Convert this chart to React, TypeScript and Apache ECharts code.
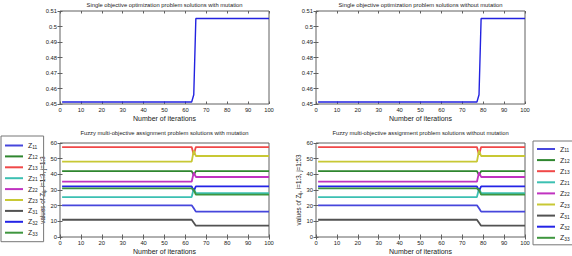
import React, { useEffect, useRef } from "react";
import * as echarts from "echarts";

const FONT = "Liberation Sans, Arial, sans-serif";

const names = ["Z11", "Z12", "Z13", "Z21", "Z22", "Z23", "Z31", "Z32", "Z33"];
const colors = ["#4646dc", "#2f862f", "#f04848", "#3cc0b2", "#c032c0", "#c8c834", "#525252", "#2424e6", "#3f963f"];

// Single objective: breakpoints (iteration, value)
const topWithX = [1, 63, 64, 65, 100];
const topWithoutX = [1, 77, 78, 79, 100];
const topY = [0.4513, 0.4513, 0.456, 0.5052, 0.5052];

// Multi-objective: breakpoints
const multiWithX = [1, 63, 64, 65, 100];
const multiWithoutX = [1, 77, 78, 79, 100];
const z11 = [20.2, 20.2, 18.3, 16.2, 16.2];
const z12 = [42.1, 42.1, 39.5, 42.1, 42.1];
const z13 = [57.4, 57.4, 52.5, 57.4, 57.4];
const z21 = [25.5, 25.5, 31.0, 28.0, 28.0];
const z22 = [35.3, 35.3, 41.2, 38.3, 38.3];
const z23 = [48.1, 48.1, 55.2, 51.7, 51.7];
const z31 = [11.0, 11.0, 9.1, 7.2, 7.2];
const z32 = [32.3, 32.3, 29.5, 32.3, 32.3];
const z33 = [31.0, 31.0, 30.0, 27.1, 27.1];
const zValues = [z11, z12, z13, z21, z22, z23, z31, z32, z33];

const titles = [
  "Single objective optimization problem solutions with mutation",
  "Single objective optimization problem solutions without mutation",
  "Fuzzy multi-objective assignment problem solutions with mutation",
  "Fuzzy multi-objective assignment problem solutions without mutation",
];
const yNameSuffix = [", i=1:3, j=1:3", ", i=1:3, j=1:53"];

const grids = [
  { left: 60, top: 11, width: 209, height: 93 },
  { left: 316, top: 11, width: 209, height: 93 },
  { left: 60, top: 143, width: 209, height: 94 },
  { left: 316, top: 143, width: 209, height: 94 },
];

function pairs(xs: number[], ys: number[]) {
  return xs.map((x, i) => [x, ys[i]]);
}

export default function App() {
  const ref = useRef<HTMLDivElement>(null);
  useEffect(() => {
    if (!ref.current) return;
    const chart = echarts.init(ref.current, undefined, { renderer: "svg" });
    const axisColor = "#606060";
    const textColor = "#222";

    const xAxes: any[] = [];
    const yAxes: any[] = [];
    grids.forEach((g, gi) => {
      xAxes.push({
        type: "value", gridIndex: gi, min: 0, max: 100, interval: 10,
        axisLine: { show: false },
        axisTick: { show: true, inside: true, length: 2.5, lineStyle: { color: axisColor } },
        axisLabel: { fontSize: 5.8, color: textColor, margin: 2.5, fontFamily: FONT },
        splitLine: { show: false },
        name: "Number of iterations", nameLocation: "middle", nameGap: 10.5,
        nameTextStyle: { fontSize: 7, color: textColor, fontFamily: FONT },
      });
      const isTop = gi < 2;
      yAxes.push({
        type: "value", gridIndex: gi,
        min: isTop ? 0.45 : 0, max: isTop ? 0.51 : 60, interval: isTop ? 0.01 : 10,
        axisLine: { show: false },
        axisTick: { show: true, inside: true, length: 2.5, lineStyle: { color: axisColor } },
        axisLabel: { fontSize: 5.8, color: textColor, margin: 3, fontFamily: FONT },
        splitLine: { show: false },
        ...(isTop ? {} : {
          name: "{t|values of Z}{s|ij}{t|" + yNameSuffix[gi - 2] + "}",
          nameLocation: "middle", nameGap: 12,
          nameTextStyle: {
            color: textColor,
            rich: {
              t: { fontSize: 6.3, fontFamily: FONT, color: textColor },
              s: { fontSize: 4.6, fontFamily: FONT, color: textColor, padding: [3, 0, 0, 0] },
            },
          },
        }),
      });
    });
    grids.forEach((g, gi) => {
      const isTop = gi < 2;
      xAxes.push({
        type: "value", gridIndex: gi, position: "top", min: 0, max: 100, interval: 10,
        axisLine: { show: false }, axisLabel: { show: false }, splitLine: { show: false },
        axisTick: { show: true, inside: true, length: 2.5, lineStyle: { color: axisColor } },
      });
      yAxes.push({
        type: "value", gridIndex: gi, position: "right",
        min: isTop ? 0.45 : 0, max: isTop ? 0.51 : 60, interval: isTop ? 0.01 : 10,
        axisLine: { show: false }, axisLabel: { show: false }, splitLine: { show: false },
        axisTick: { show: true, inside: true, length: 2.5, lineStyle: { color: axisColor } },
      });
    });

    const series: any[] = [];
    series.push({
      type: "line", name: "top1", xAxisIndex: 0, yAxisIndex: 0, showSymbol: false, symbol: "none",
      data: pairs(topWithX, topY), lineStyle: { color: "#2222e0", width: 1.4 }, itemStyle: { color: "#2222e0" },
    });
    series.push({
      type: "line", name: "top2", xAxisIndex: 1, yAxisIndex: 1, showSymbol: false, symbol: "none",
      data: pairs(topWithoutX, topY), lineStyle: { color: "#2222e0", width: 1.4 }, itemStyle: { color: "#2222e0" },
    });
    [2, 3].forEach((gi) => {
      const xs = gi === 2 ? multiWithX : multiWithoutX;
      names.forEach((n, i) => {
        series.push({
          type: "line", name: n, xAxisIndex: gi, yAxisIndex: gi, showSymbol: false, symbol: "none",
          data: pairs(xs, zValues[i]),
          lineStyle: { color: colors[i], width: 1.8 }, itemStyle: { color: colors[i] },
        });
      });
    });

    const legendBase = {
      orient: "vertical",
      data: names.map((n) => ({ name: n, icon: "rect" })),
      itemWidth: 18,
      itemHeight: 2,
      borderColor: "#777",
      borderWidth: 1,
      selectedMode: false,
      formatter: (n: string) => "{a|Z}{b|" + n.slice(1) + "}",
      textStyle: {
        rich: {
          a: { fontSize: 7, fontFamily: FONT, color: textColor },
          b: { fontSize: 4.8, fontFamily: FONT, color: textColor, padding: [3, 0, 0, 0] },
        },
      },
    };

    chart.setOption({
      animation: false,
      backgroundColor: "#fff",
      title: titles.map((t, i) => ({
        text: t,
        left: grids[i].left + grids[i].width / 2,
        top: i < 2 ? 1.5 : 129.5,
        textAlign: "center",
        padding: 0,
        textStyle: { fontSize: 5.8, fontWeight: "normal", color: textColor, fontFamily: FONT },
      })),
      grid: grids.map((g) => ({ ...g, show: true, borderColor: axisColor, borderWidth: 1, containLabel: false })),
      xAxis: xAxes,
      yAxis: yAxes,
      legend: [
        { ...legendBase, left: 1, top: 136, itemGap: 3.4, padding: [6, 6, 5, 4] },
        { ...legendBase, left: 533, top: 141, itemGap: 3.6, padding: [4.5, 12, 3, 4] },
      ],
      series,
    });
    return () => chart.dispose();
  }, []);
  return <div ref={ref} style={{ position: "absolute", left: 0, top: 0, width: 572, height: 256 }} />;
}
